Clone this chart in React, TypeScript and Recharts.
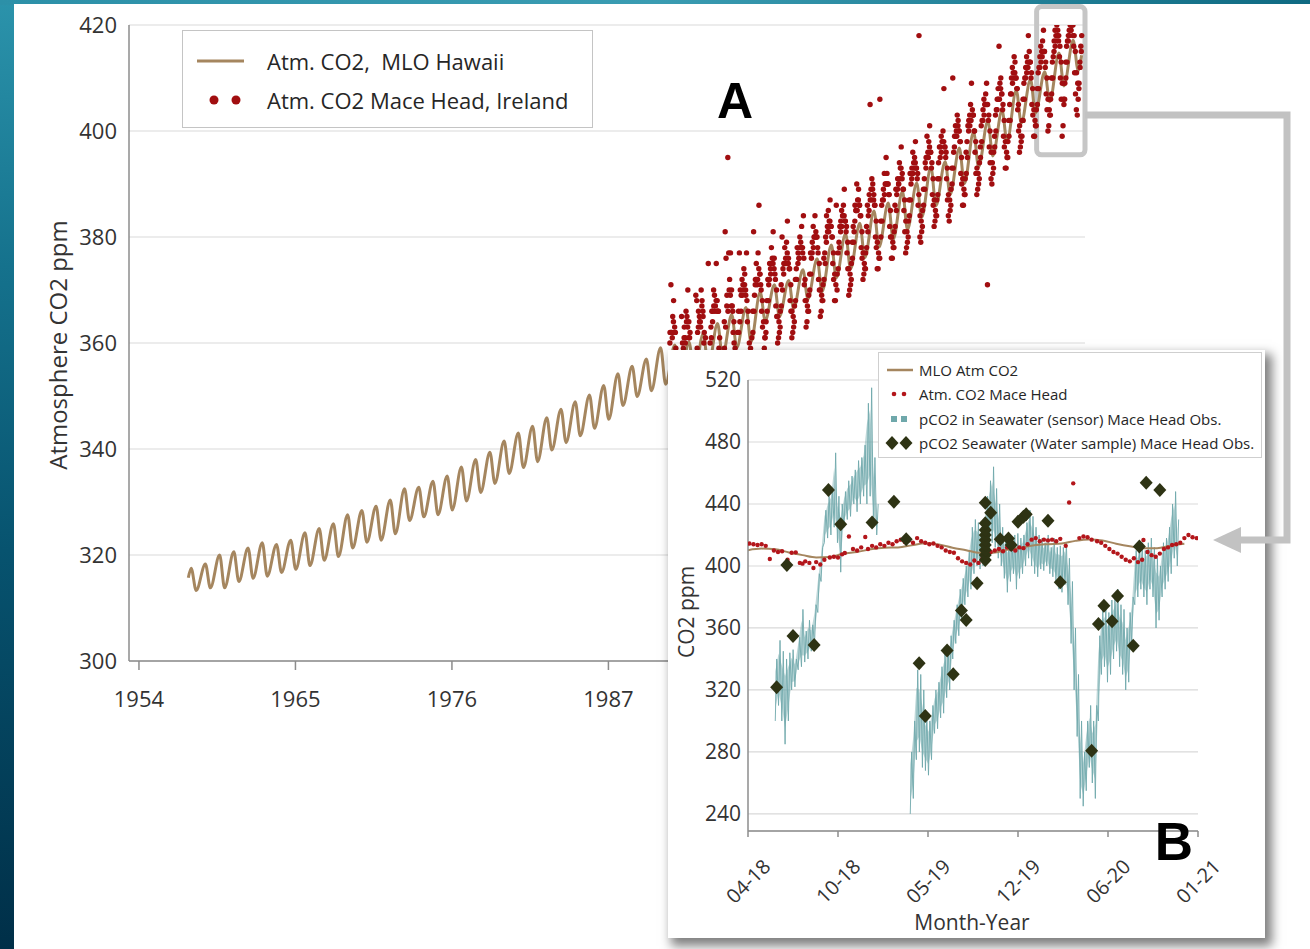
import React from 'react';
import {
  ComposedChart,
  Line,
  Area,
  Scatter,
  XAxis,
  YAxis,
  CartesianGrid,
  ReferenceArea,
} from 'recharts';

const FONT = '"Open Sans", "Noto Sans", Arial, sans-serif';
const BOLD_FONT = '"Liberation Sans", Arial, sans-serif';
const MLO_COLOR = '#a5865f';
const MACE_COLOR = '#a10e10';
const MACE_INSET_COLOR = '#b3161b';
const SENSOR_COLOR = '#6fa8ab';
const SAMPLE_COLOR = '#2e3314';
const GRID = '#d9d9d9';
const AXIS = '#8c8c8c';
const TEXT = '#333333';

// ---------------- Panel A : long-term record ----------------

// Mauna Loa: yearly May maximum and September minimum (ppm)
const mloYears = [
  1958, 1959, 1960, 1961, 1962, 1963, 1964, 1965, 1966, 1967,
  1968, 1969, 1970, 1971, 1972, 1973, 1974, 1975, 1976, 1977,
  1978, 1979, 1980, 1981, 1982, 1983, 1984, 1985, 1986, 1987,
  1988, 1989, 1990, 1991, 1992, 1993, 1994, 1995, 1996, 1997,
  1998, 1999, 2000, 2001, 2002, 2003, 2004, 2005, 2006, 2007,
  2008, 2009, 2010, 2011, 2012, 2013, 2014, 2015, 2016, 2017,
  2018, 2019, 2020,
];
const mloMayPeak = [
  317.5, 318.3, 320.0, 320.6, 321.3, 322.3, 322.0, 322.8, 324.2, 325.0,
  325.9, 327.6, 328.4, 329.2, 330.4, 332.5, 332.8, 333.9, 334.9, 336.6,
  338.0, 339.4, 341.5, 343.0, 344.3, 345.9, 347.5, 348.9, 350.2, 352.0,
  354.2, 355.6, 357.0, 359.1, 359.6, 360.2, 361.8, 363.7, 365.4, 366.7,
  369.6, 371.0, 371.8, 373.8, 375.9, 378.5, 380.6, 382.6, 384.9, 386.4,
  388.6, 390.2, 393.2, 394.2, 396.8, 399.8, 401.9, 403.9, 407.7, 409.7,
  411.2, 414.7, 417.1,
];
const mloSepLow = [
  313.3, 313.8, 313.8, 315.0, 315.6, 316.0, 316.7, 317.3, 318.0, 319.0,
  319.7, 321.3, 322.4, 322.8, 324.0, 326.5, 327.2, 327.6, 328.5, 330.2,
  331.8, 333.5, 335.4, 336.5, 337.6, 339.8, 341.2, 342.5, 343.9, 345.6,
  348.2, 349.9, 351.0, 352.2, 352.9, 353.8, 355.4, 357.5, 359.1, 360.2,
  364.2, 365.0, 366.5, 368.3, 369.7, 372.3, 374.0, 376.1, 378.1, 379.6,
  381.4, 383.7, 385.9, 388.0, 390.1, 393.2, 395.3, 398.0, 401.5, 403.4,
  405.5, 408.5, 411.4,
];
// first (March 1958) and last (December 2020) monthly values: [year, ppm]
const mloFirstMonth = [1958.17, 315.7];
const mloLastMonth = [2020.96, 414.3];

// Mace Head, Ireland
const maceHeadYears = [
  1992, 1993, 1994, 1995, 1996, 1997, 1998, 1999, 2000, 2001,
  2002, 2003, 2004, 2005, 2006, 2007, 2008, 2009, 2010, 2011,
  2012, 2013, 2014, 2015, 2016, 2017, 2018, 2019, 2020,
];
// 16 flask/event samples spread through each year (ppm)
const maceHeadSamples = [
  [362, 371, 362, 365, 368, 362, 362, 355, 353, 347, 349, 350, 355, 365, 360, 359],
  [363, 361, 366, 365, 370, 361, 361, 357, 351, 351, 348, 351, 356, 369, 368, 362],
  [366, 365, 364, 370, 368, 366, 360, 358, 356, 350, 351, 375, 357, 360, 363, 366],
  [366, 370, 369, 367, 375, 368, 366, 359, 356, 354, 351, 356, 357, 364, 381, 376],
  [369, 395, 377, 372, 377, 367, 367, 362, 360, 354, 355, 356, 362, 366, 377, 370],
  [369, 372, 371, 374, 373, 370, 377, 364, 357, 356, 356, 358, 361, 366, 381, 369],
  [372, 375, 371, 377, 386, 373, 371, 366, 363, 358, 359, 361, 364, 368, 372, 371],
  [375, 374, 378, 376, 381, 374, 373, 367, 365, 360, 361, 362, 366, 371, 380, 374],
  [375, 378, 376, 379, 383, 375, 374, 368, 366, 361, 362, 363, 367, 372, 374, 378],
  [377, 376, 380, 379, 382, 378, 384, 371, 368, 363, 364, 366, 369, 373, 377, 376],
  [379, 382, 380, 384, 381, 380, 378, 372, 370, 365, 366, 368, 371, 376, 377, 380],
  [384, 382, 385, 383, 387, 382, 380, 375, 372, 368, 368, 386, 373, 377, 379, 382],
  [383, 385, 384, 386, 389, 383, 381, 377, 374, 369, 370, 371, 375, 379, 382, 381],
  [386, 385, 390, 387, 389, 386, 384, 378, 376, 372, 373, 374, 377, 382, 386, 384],
  [388, 405, 389, 391, 390, 387, 386, 380, 378, 374, 374, 376, 406, 383, 386, 387],
  [389, 392, 390, 395, 392, 390, 388, 382, 380, 376, 376, 378, 381, 386, 389, 388],
  [391, 390, 394, 393, 397, 391, 389, 385, 381, 377, 378, 379, 383, 387, 392, 390],
  [393, 396, 394, 395, 398, 393, 391, 386, 418, 380, 379, 381, 385, 389, 391, 394],
  [395, 399, 396, 398, 401, 396, 393, 388, 386, 382, 383, 384, 387, 391, 394, 397],
  [397, 399, 398, 400, 408, 397, 395, 391, 387, 384, 383, 385, 389, 393, 410, 396],
  [399, 401, 400, 403, 402, 400, 398, 392, 390, 386, 386, 388, 391, 396, 398, 401],
  [402, 403, 405, 409, 404, 403, 400, 396, 392, 388, 389, 390, 394, 397, 401, 402],
  [404, 406, 405, 407, 409, 371, 402, 397, 394, 391, 390, 392, 396, 399, 403, 404],
  [406, 408, 416, 409, 410, 407, 404, 399, 397, 393, 393, 395, 398, 402, 405, 407],
  [410, 412, 411, 414, 413, 410, 408, 404, 400, 396, 397, 398, 402, 406, 409, 410],
  [412, 414, 413, 418, 415, 413, 410, 405, 403, 399, 399, 401, 404, 408, 411, 412],
  [414, 416, 415, 417, 419, 415, 412, 407, 404, 400, 401, 403, 406, 410, 413, 414],
  [417, 419, 418, 420, 419, 417, 414, 410, 406, 399, 401, 405, 409, 413, 416, 417],
  [418, 419, 420, 419, 420, 418, 416, 411, 407, 404, 403, 406, 409, 413, 416, 418],
];
// monthly background values for each year (ppm)
const maceHeadMonthly = [
  [360, 362, 361, 364, 363, 359, 358, 352, 352, 350, 355, 358],
  [361, 360, 364, 363, 364, 362, 357, 355, 351, 353, 356, 359],
  [363, 364, 363, 367, 365, 362, 361, 355, 355, 353, 358, 361],
  [364, 367, 366, 368, 366, 366, 361, 358, 355, 357, 359, 363],
  [367, 366, 370, 369, 370, 366, 364, 359, 358, 357, 362, 364],
  [366, 369, 370, 371, 369, 368, 366, 360, 359, 358, 362, 366],
  [371, 372, 372, 374, 373, 370, 368, 364, 361, 362, 366, 368],
  [372, 373, 375, 375, 376, 372, 370, 365, 364, 363, 367, 370],
  [373, 375, 375, 377, 376, 374, 371, 366, 365, 364, 368, 372],
  [375, 376, 378, 378, 377, 376, 372, 368, 367, 366, 370, 373],
  [377, 378, 380, 380, 380, 377, 375, 370, 369, 368, 372, 375],
  [379, 381, 381, 383, 382, 380, 377, 373, 371, 370, 374, 378],
  [381, 382, 384, 384, 383, 382, 379, 374, 373, 372, 376, 379],
  [383, 385, 385, 387, 386, 384, 381, 377, 375, 374, 378, 381],
  [385, 387, 387, 389, 388, 386, 383, 379, 377, 376, 380, 383],
  [387, 388, 390, 390, 390, 388, 385, 380, 379, 378, 382, 385],
  [389, 390, 391, 393, 392, 389, 387, 383, 381, 380, 384, 387],
  [391, 392, 393, 394, 393, 392, 388, 384, 383, 382, 386, 389],
  [393, 395, 395, 397, 396, 394, 391, 387, 385, 384, 388, 391],
  [395, 396, 398, 398, 397, 396, 393, 388, 387, 386, 390, 393],
  [397, 399, 399, 401, 400, 398, 395, 391, 389, 388, 392, 395],
  [400, 401, 402, 403, 403, 400, 398, 393, 392, 391, 395, 398],
  [402, 403, 405, 405, 405, 403, 400, 396, 394, 393, 397, 400],
  [404, 406, 406, 408, 407, 405, 402, 398, 396, 395, 399, 402],
  [407, 409, 410, 411, 410, 408, 405, 401, 399, 399, 402, 406],
  [410, 411, 412, 413, 413, 411, 408, 404, 402, 401, 405, 408],
  [412, 413, 414, 415, 415, 413, 410, 406, 404, 403, 407, 410],
  [415, 416, 417, 418, 418, 416, 413, 409, 406, 406, 410, 413],
  [417, 418, 419, 420, 420, 418, 415, 411, 409, 408, 412, 415],
];

const mainTickYears = [1954, 1965, 1976, 1987, 1998, 2009, 2020];
const mainYTicks = [300, 320, 340, 360, 380, 400, 420];
// year labels sit under the September tick of each labelled year
const YEAR_LABEL_OFFSET = 0.7;

// ---------------- Panel B : 2018-2020 detail (x = months from April 2018) ----------------

const insetTickMonths = [0, 6.6, 13.2, 19.8, 26.4, 33];
const insetTickLabels = ['04-18', '10-18', '05-19', '12-19', '06-20', '01-21'];
const insetYTicks = [240, 280, 320, 360, 400, 440, 480, 520];

// Mauna Loa monthly means, April 2018 .. December 2020
const mloInsetMonthly = [
  410.2, 411.2, 410.8, 408.7, 407.0, 405.5, 405.8, 408.0, 409.0,
  410.8, 411.8, 412.0, 413.3, 414.7, 413.9, 411.8, 410.2, 408.5, 408.6, 410.5, 411.8,
  413.4, 414.1, 414.5, 416.2, 417.1, 416.4, 414.4, 412.7, 411.4, 411.5, 413.1, 414.3,
];

// Mace Head atmospheric CO2: [month, ppm]
const maceInset = [
  [0.1, 414.5], [0.4, 414], [0.7, 413.5], [1.0, 414], [1.3, 413], [1.6, 404.5], [1.9, 410],
  [2.2, 409], [2.5, 409.5], [2.9, 404], [3.2, 408.5], [3.5, 408.8], [3.8, 402], [4.0, 401.5],
  [4.2, 403], [4.5, 402], [4.8, 398.7], [5.0, 402.5], [5.3, 401], [5.6, 404], [6.0, 405.5],
  [6.3, 406], [6.6, 405.5], [6.9, 407.5], [7.1, 408.4], [7.4, 419], [7.7, 411], [8.0, 410],
  [8.3, 412], [8.6, 418.7], [8.8, 411], [9.1, 413], [9.4, 412], [9.7, 414], [10.0, 413],
  [10.3, 415], [10.6, 414], [10.9, 416], [11.2, 417], [11.5, 415.5], [11.8, 416.5], [12.1, 415],
  [12.4, 418], [12.7, 416], [13.0, 415], [13.3, 414], [13.6, 414.5], [13.9, 413], [14.2, 412],
  [14.5, 410], [14.8, 409], [15.1, 408.5], [15.4, 405], [15.7, 403], [16.0, 402], [16.3, 401],
  [16.6, 403.5], [16.9, 402], [17.2, 405], [17.5, 407], [17.8, 409], [18.1, 410], [18.4, 411],
  [18.7, 409.5], [19.0, 412], [19.3, 411], [19.6, 410], [19.9, 412], [20.2, 411.5], [20.5, 414],
  [20.8, 417], [21.1, 418], [21.4, 416], [21.7, 417], [22.0, 416.5], [22.3, 417], [22.6, 416],
  [22.9, 417.5], [23.3, 413], [23.55, 441], [23.85, 453.3], [24.3, 418], [24.6, 419], [24.9, 418.5],
  [25.2, 417], [25.6, 416], [25.9, 415], [26.2, 413], [26.5, 411], [26.8, 409], [27.1, 408],
  [27.4, 406], [27.7, 404], [28.0, 403], [28.3, 405], [28.6, 402.5], [28.9, 404], [29.0, 416.8],
  [29.3, 409], [29.6, 407], [29.9, 406], [30.2, 408], [30.5, 411], [30.8, 412], [31.1, 413.5],
  [31.4, 414], [31.7, 415], [32.0, 418], [32.3, 420], [32.6, 418.5], [32.9, 418],
];

// Seawater pCO2 sensor: two recording runs, each a sequence of (low, high) ranges
const sensorRunStart = [2.0, 11.9];
const sensorRunStep = [0.24, 0.2225];
const sensorLow = [
  [300, 310, 300, 285, 300, 320, 322, 333, 335, 338, 340, 345, 350, 370, 390, 415,
   418, 420, 425, 415, 396, 425, 430, 432, 440, 435, 440, 445, 440, 445, 425, 420],
  [240, 250, 275, 280, 270, 268, 265, 275, 292, 295, 302, 305, 315, 320, 340, 350,
   355, 365, 375, 380, 385, 395, 400, 398, 400, 405, 410, 415, 412, 405, 400, 392,
   383, 390, 395, 385, 392, 395, 400, 405, 400, 395, 393, 398, 397, 400, 395, 393,
   390, 385, 383, 388, 375, 350, 320, 290, 250, 245, 255, 270, 260, 250, 300, 330,
   335, 325, 330, 340, 345, 335, 330, 320, 325, 350, 375, 380, 385, 380, 375, 385,
   380, 360, 365, 380, 385, 390, 395, 405, 400],
];
const sensorHigh = [
  [340, 352, 345, 340, 344, 346, 340, 354, 372, 358, 365, 362, 375, 395, 412, 436,
   445, 450, 473, 445, 440, 448, 455, 458, 462, 468, 470, 478, 505, 515, 470, 440],
  [280, 300, 333, 330, 320, 305, 300, 310, 320, 325, 335, 345, 348, 355, 365, 375,
   385, 392, 400, 410, 425, 430, 428, 425, 430, 445, 455, 464, 450, 440, 425, 420,
   415, 418, 420, 421, 418, 420, 428, 436, 432, 425, 420, 418, 415, 420, 412, 418,
   412, 413, 412, 415, 405, 390, 360, 330, 300, 280, 300, 310, 300, 310, 355, 372,
   375, 370, 378, 380, 385, 375, 372, 360, 370, 380, 410, 412, 415, 410, 415, 418,
   412, 405, 400, 415, 418, 425, 440, 448, 430],
];

// Seawater pCO2 from discrete water samples: [month, ppm]
const waterSamples = [
  [2.1, 321.7], [2.85, 400.6], [3.3, 354.8], [4.85, 349], [5.9, 449], [6.8, 426.9],
  [9.1, 428], [10.7, 441.5], [11.6, 417.2], [12.55, 337.2], [13.0, 303.2], [14.6, 345.4],
  [15.05, 330.1], [15.65, 371.2], [16.0, 365.2], [16.8, 388.8], [17.4, 403.9], [17.4, 407.1],
  [17.4, 410.3], [17.4, 413.5], [17.4, 416.8], [17.4, 420], [17.4, 423.2], [17.4, 427.5],
  [17.4, 440.8], [17.8, 434.4], [18.5, 417.2], [19.1, 417.8], [19.3, 413.5], [19.8, 428.6],
  [20.2, 431.8], [20.4, 433.3], [22.0, 429.2], [22.9, 389.5], [25.2, 280.8], [25.7, 362.6],
  [26.1, 374.4], [26.7, 364.3], [27.1, 380.6], [28.25, 348.6], [28.7, 412.5], [29.2, 453.7],
  [30.2, 449],
];

// ---------------- series assembly ----------------

const mloPoints: { t: number; v: number }[] = [{ t: mloFirstMonth[0], v: mloFirstMonth[1] }];
mloYears.forEach((y, i) => {
  mloPoints.push({ t: y + 0.37, v: mloMayPeak[i] });
  mloPoints.push({ t: y + 0.72, v: mloSepLow[i] });
});
mloPoints.push({ t: mloLastMonth[0], v: mloLastMonth[1] });

const maceHeadPoints: { t: number; v: number }[] = [];
maceHeadYears.forEach((y, i) => {
  const samples = maceHeadSamples[i];
  samples.forEach((v, k) => maceHeadPoints.push({ t: y + (k + 0.5) / samples.length, v }));
  const monthly = maceHeadMonthly[i];
  monthly.forEach((v, k) => maceHeadPoints.push({ t: y + (k + 0.25) / monthly.length, v }));
});

const mainTickValues = mainTickYears.map((y) => y + YEAR_LABEL_OFFSET);

const mloInsetPoints = mloInsetMonthly.map((v, i) => ({ m: i, v }));
const maceInsetPoints = maceInset.map(([m, v]) => ({ m, v }));
const samplePoints = waterSamples.map(([m, v]) => ({ m, v }));

// zig-zag trace through each (low, high) pair, runs separated by a gap
const sensorPoints: { m: number; v: number | null }[] = [];
// shaded low-high envelope, one array per run
const sensorBands: { m: number; band: [number, number] }[][] = [];
sensorRunStart.forEach((start, r) => {
  const step = sensorRunStep[r];
  const band: { m: number; band: [number, number] }[] = [];
  sensorLow[r].forEach((lo, i) => {
    const m = start + i * step;
    const hi = sensorHigh[r][i];
    sensorPoints.push({ m, v: lo });
    sensorPoints.push({ m: m + step * 0.45, v: hi });
    band.push({ m, band: [lo + (hi - lo) * 0.2, hi - (hi - lo) * 0.2] });
  });
  sensorPoints.push({ m: start + sensorLow[r].length * step, v: null });
  sensorBands.push(band);
});

// ---------------- marks ----------------

const makeDot = (r: number, fill: string) => (props: any) => {
  const { cx, cy } = props;
  if (cx == null || cy == null) return <g />;
  return <circle cx={cx} cy={cy} r={r} fill={fill} />;
};

const Diamond = (props: any) => {
  const { cx, cy } = props;
  if (cx == null || cy == null) return <g />;
  const w = 6.5;
  const h = 7;
  return (
    <polygon
      points={`${cx},${cy - h} ${cx + w},${cy} ${cx},${cy + h} ${cx - w},${cy}`}
      fill={SAMPLE_COLOR}
    />
  );
};

const InsetTick = (props: any) => {
  const { x, y, payload } = props;
  const idx = insetTickMonths.findIndex((t) => Math.abs(t - payload.value) < 0.01);
  const label = idx >= 0 ? insetTickLabels[idx] : '';
  const cy = y + 42;
  return (
    <text
      x={x}
      y={cy}
      textAnchor="middle"
      dominantBaseline="central"
      transform={`rotate(-45 ${x} ${cy})`}
      fontSize={20}
      fontFamily={FONT}
      fill={TEXT}
    >
      {label}
    </text>
  );
};

const yearLabel = (v: number) => String(Math.round(v - YEAR_LABEL_OFFSET));

// ---------------- legends ----------------

const MainLegend = () => (
  <div
    style={{
      position: 'absolute',
      left: 182,
      top: 30,
      width: 411,
      height: 98,
      boxSizing: 'border-box',
      border: '1px solid #c4c4c4',
      background: '#fff',
      fontFamily: FONT,
      fontSize: 22,
      color: '#262626',
    }}
  >
    <svg width={80} height={98} style={{ position: 'absolute', left: 0, top: 0 }}>
      <line x1={14} x2={61} y1={30} y2={30} stroke={MLO_COLOR} strokeWidth={3} />
      <circle cx={31} cy={69} r={4.5} fill={MACE_COLOR} />
      <circle cx={53} cy={69} r={4.5} fill={MACE_COLOR} />
    </svg>
    <div style={{ position: 'absolute', left: 84, top: 14, lineHeight: '32px', whiteSpace: 'pre' }}>
      {'Atm. CO2,  MLO Hawaii'}
    </div>
    <div style={{ position: 'absolute', left: 84, top: 53, lineHeight: '32px', whiteSpace: 'pre' }}>
      {'Atm. CO2 Mace Head, Ireland'}
    </div>
  </div>
);

const insetLegendRows = [
  'MLO Atm CO2',
  'Atm. CO2 Mace Head',
  'pCO2 in Seawater (sensor) Mace Head Obs.',
  'pCO2 Seawater (Water sample) Mace Head Obs.',
];

const InsetLegend = () => {
  const rowY = [17, 41, 66, 90];
  return (
    <div
      style={{
        position: 'absolute',
        left: 210,
        top: 2,
        width: 384,
        height: 106,
        boxSizing: 'border-box',
        border: '1px solid #cfcfcf',
        background: '#fff',
        fontFamily: FONT,
        fontSize: 15,
        color: '#262626',
      }}
    >
      <svg width={40} height={106} style={{ position: 'absolute', left: 0, top: 0 }}>
        <line x1={8} x2={34} y1={rowY[0]} y2={rowY[0]} stroke={MLO_COLOR} strokeWidth={2.5} />
        <circle cx={15} cy={rowY[1]} r={2.3} fill={MACE_INSET_COLOR} />
        <circle cx={25} cy={rowY[1]} r={2.3} fill={MACE_INSET_COLOR} />
        <rect x={12} y={rowY[2] - 3} width={6} height={6} fill={SENSOR_COLOR} />
        <rect x={22} y={rowY[2] - 3} width={6} height={6} fill={SENSOR_COLOR} />
        <polygon points={`13,${rowY[3] - 7} 19.5,${rowY[3]} 13,${rowY[3] + 7} 6.5,${rowY[3]}`} fill={SAMPLE_COLOR} />
        <polygon points={`27,${rowY[3] - 7} 33.5,${rowY[3]} 27,${rowY[3] + 7} 20.5,${rowY[3]}`} fill={SAMPLE_COLOR} />
      </svg>
      {insetLegendRows.map((label, i) => (
        <div
          key={label}
          style={{
            position: 'absolute',
            left: 40,
            top: rowY[i] - 12,
            lineHeight: '24px',
            whiteSpace: 'pre',
          }}
        >
          {label}
        </div>
      ))}
    </div>
  );
};

// ---------------- page ----------------

export default function App() {
  return (
    <div
      style={{
        position: 'absolute',
        left: 0,
        top: 0,
        width: 1310,
        height: 949,
        overflow: 'hidden',
        fontFamily: FONT,
        background: 'linear-gradient(180deg, #2b93ab 0%, #15728d 28%, #07536f 58%, #002f48 100%)',
      }}
    >
      <div
        style={{
          position: 'absolute',
          left: 0,
          top: 0,
          width: 1310,
          height: 5,
          background: 'linear-gradient(90deg, #2c90a8 0%, #3a9cb2 50%, #0f6a82 100%)',
        }}
      />
      <div style={{ position: 'absolute', left: 14, top: 4, width: 1296, height: 945, background: '#ffffff' }} />

      {/* Panel A */}
      <div style={{ position: 'absolute', left: 0, top: 0 }}>
        <ComposedChart width={1310} height={949} margin={{ top: 25, right: 225, bottom: 258, left: 69 }}>
          <CartesianGrid vertical={false} stroke={GRID} strokeWidth={1.2} />
          <XAxis
            dataKey="t"
            type="number"
            domain={[1954, 2021.2]}
            ticks={mainTickValues}
            tickFormatter={yearLabel}
            interval={0}
            allowDataOverflow
            height={30}
            tickSize={9}
            tickMargin={21}
            axisLine={{ stroke: AXIS, strokeWidth: 1.5 }}
            tickLine={{ stroke: AXIS, strokeWidth: 1.5 }}
            tick={{ fontSize: 22, fill: TEXT, fontFamily: FONT }}
          />
          <YAxis
            type="number"
            domain={[300, 420]}
            ticks={mainYTicks}
            interval={0}
            allowDataOverflow
            width={60}
            tickLine={false}
            tickSize={0}
            tickMargin={12}
            axisLine={{ stroke: AXIS, strokeWidth: 1.5 }}
            tick={{ fontSize: 22, fill: TEXT, fontFamily: FONT }}
          />
          <Scatter
            data={maceHeadPoints}
            dataKey="v"
            shape={makeDot(2.7, MACE_COLOR)}
            isAnimationActive={false}
          />
          <Line
            data={mloPoints}
            dataKey="v"
            type="monotone"
            stroke={MLO_COLOR}
            strokeWidth={3}
            dot={false}
            isAnimationActive={false}
          />
          <ReferenceArea
            x1={2017.8}
            x2={2021.2}
            y1={395.5}
            y2={423.5}
            ifOverflow="visible"
            fill="none"
            stroke="#c6c6c6"
            strokeWidth={5}
            radius={5}
          />
        </ComposedChart>
      </div>

      <MainLegend />

      {/* Panel B */}
      <div
        style={{
          position: 'absolute',
          left: 668,
          top: 350,
          width: 597,
          height: 588,
          background: '#ffffff',
          boxShadow: '5px 6px 10px 2px rgba(0,0,0,0.5)',
        }}
      >
        <ComposedChart width={597} height={588} margin={{ top: 30, right: 67, bottom: 27, left: 20 }}>
          <CartesianGrid vertical={false} stroke={GRID} strokeWidth={1.2} />
          <XAxis
            dataKey="m"
            type="number"
            domain={[0, 33]}
            ticks={insetTickMonths}
            interval={0}
            allowDataOverflow
            height={80}
            tickSize={6}
            axisLine={{ stroke: AXIS, strokeWidth: 1.5 }}
            tickLine={{ stroke: AXIS, strokeWidth: 1.5 }}
            tick={(p: any) => <InsetTick {...p} />}
          />
          <YAxis
            type="number"
            domain={[229, 520]}
            ticks={insetYTicks}
            interval={0}
            allowDataOverflow
            width={60}
            tickLine={false}
            tickSize={0}
            tickMargin={7}
            axisLine={{ stroke: AXIS, strokeWidth: 1.5 }}
            tick={{ fontSize: 21, fill: TEXT, fontFamily: FONT }}
          />
          {sensorBands.map((band, i) => (
            <Area
              key={`band-${i}`}
              data={band}
              dataKey="band"
              type="linear"
              stroke="none"
              fill={SENSOR_COLOR}
              fillOpacity={0.45}
              isAnimationActive={false}
            />
          ))}
          <Line
            data={sensorPoints}
            dataKey="v"
            type="linear"
            stroke={SENSOR_COLOR}
            strokeWidth={0.9}
            dot={false}
            connectNulls={false}
            isAnimationActive={false}
          />
          <Scatter
            data={maceInsetPoints}
            dataKey="v"
            shape={makeDot(2.2, MACE_INSET_COLOR)}
            isAnimationActive={false}
          />
          <Line
            data={mloInsetPoints}
            dataKey="v"
            type="monotone"
            stroke={MLO_COLOR}
            strokeWidth={2}
            dot={false}
            isAnimationActive={false}
          />
          <Scatter data={samplePoints} dataKey="v" shape={Diamond} isAnimationActive={false} />
        </ComposedChart>
        <InsetLegend />
      </div>

      {/* titles, panel letters and the connector between the panels */}
      <svg
        width={1310}
        height={949}
        style={{ position: 'absolute', left: 0, top: 0, pointerEvents: 'none' }}
      >
        <text
          x={57}
          y={345}
          transform="rotate(-90 57 345)"
          textAnchor="middle"
          dominantBaseline="central"
          fontSize={24}
          fontFamily={FONT}
          fill={TEXT}
        >
          Atmosphere CO2 ppm
        </text>
        <text
          x={686}
          y={612}
          transform="rotate(-90 686 612)"
          textAnchor="middle"
          dominantBaseline="central"
          fontSize={21}
          fontFamily={FONT}
          fill={TEXT}
        >
          CO2 ppm
        </text>
        <text
          x={972}
          y={922}
          textAnchor="middle"
          dominantBaseline="central"
          fontSize={21}
          fontFamily={FONT}
          fill={TEXT}
        >
          Month-Year
        </text>
        <path d="M1085 115 H1287 V540 H1238" stroke="#c2c2c2" strokeWidth={7} fill="none" />
        <polygon points="1213,540 1241,527 1241,553" fill="#c2c2c2" />
        <text x={735} y={118} textAnchor="middle" fontSize={50} fontWeight={700} fontFamily={BOLD_FONT} fill="#000">
          A
        </text>
        <text x={1174} y={860} textAnchor="middle" fontSize={53} fontWeight={700} fontFamily={BOLD_FONT} fill="#000">
          B
        </text>
      </svg>
    </div>
  );
}
